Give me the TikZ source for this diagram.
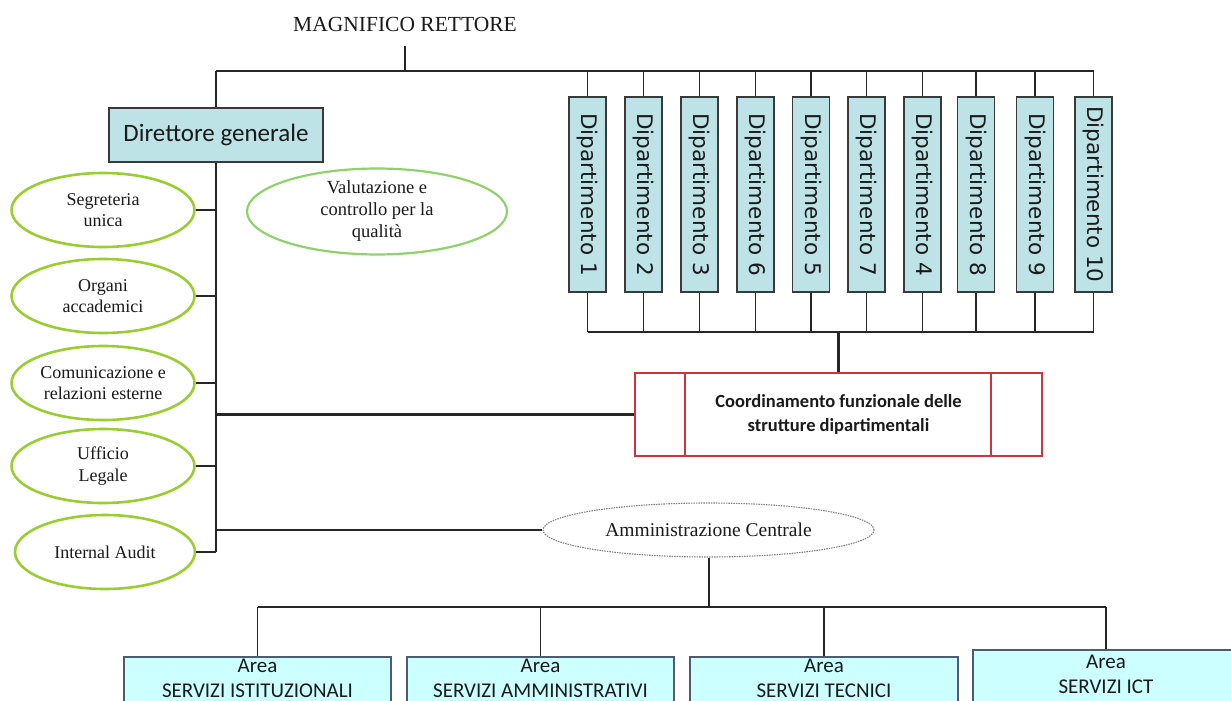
\documentclass[tikz,border=0pt]{standalone}
\usepackage{fontspec}
\setmainfont{Liberation Serif}
\newfontfamily\calfont{Carlito}
\newfontfamily\djfont{DejaVu Sans}
\usetikzlibrary{shapes.geometric}
\definecolor{linec}{HTML}{262626}
\definecolor{textc}{HTML}{1A1A1A}
\definecolor{deptfill}{HTML}{BDE3E6}
\definecolor{deptdraw}{HTML}{3A3A3A}
\definecolor{ellgreen}{HTML}{9ACD32}
\definecolor{valgreen}{HTML}{8FD16A}
\definecolor{redc}{HTML}{D0343A}
\definecolor{areafill}{HTML}{CCFFFF}
\definecolor{areadraw}{HTML}{4F5B73}
\tikzset{
  conn/.style={draw=linec, line width=2.2pt},
  deptbox/.style={rectangle, rotate=-90, draw=deptdraw, fill=deptfill, line width=1.6pt,
    minimum width=195, minimum height=37, inner sep=0pt, text=textc,
    font=\djfont\fontsize{21.5}{24}\selectfont},
  greenell/.style={ellipse, draw=ellgreen, line width=2.6pt, fill=white,
    minimum width=183, minimum height=74, inner sep=0pt, align=center, text=textc,
    font=\fontsize{18}{21.5}\selectfont},
  areabox/.style={rectangle, draw=areadraw, fill=areafill, line width=1.4pt,
    minimum width=267, minimum height=48, inner sep=0pt, text=textc},
  areatext/.style={align=center, inner sep=0pt, text=textc,
    font=\calfont\fontsize{21}{25}\selectfont},
}
\begin{document}
\begin{tikzpicture}[x=1pt,y=-1pt]
\useasboundingbox (0,0) rectangle (1231,701);
\clip (0,0) rectangle (1231,701);
\fill[white] (0,0) rectangle (1231,701);

% top
\node[text=textc, font=\fontsize{21.5}{24}\selectfont, inner sep=0pt] (rett) at (405,24) {MAGNIFICO RETTORE};
\coordinate (rstem) at (405,46);
\coordinate (tbus) at (405,71);

% direttore
\node[rectangle, draw=deptdraw, fill=deptfill, line width=2pt, minimum width=214, minimum height=54,
  inner sep=0pt, text=textc, font=\calfont\fontsize{25}{28}\selectfont] (dg) at (216,135) {Direttore generale};

% departments
\foreach \xx/\tt [count=\i] in {587.5/1,643.5/2,699.5/3,755.5/6,811/5,866.5/7,922.5/4,976/8,1035/9,1093.5/10}{
  \node[deptbox] (d\i) at (\xx,194.5) {Dipartimento \tt};
}
\coordinate (bbus) at (838.5,332);

% staff ellipses
\node[greenell] (seg) at (103,210) {Segreteria\\unica};
\node[greenell] (org) at (103,296) {Organi\\accademici};
\node[greenell] (com) at (103,383) {Comunicazione e\\relazioni esterne};
\node[greenell] (uff) at (103,466) {Ufficio\\Legale};
\node[greenell, minimum width=180] (ia) at (105,552) {Internal Audit};
\node[ellipse, draw=valgreen, line width=2.2pt, fill=white, minimum width=260, minimum height=73,
  inner sep=0pt, align=center, text=textc, font=\fontsize{18.5}{22}\selectfont] (val) at (377,211.5)
  {Valutazione e\\controllo per la\\qualità};

% coordinamento
\node[rectangle, draw=redc, line width=2pt, minimum width=407, minimum height=83, inner sep=0pt,
  align=center, text=textc, font=\calfont\bfseries\fontsize{18.5}{24}\selectfont] (coord) at (838.5,414.5)
  {Coordinamento funzionale delle\\strutture dipartimentali};
\draw[draw=redc, line width=1.6pt] ([xshift=51pt]coord.north west) -- ([xshift=51pt]coord.south west);
\draw[draw=redc, line width=1.6pt] ([xshift=-52pt]coord.north east) -- ([xshift=-52pt]coord.south east);

% amministrazione
\node[ellipse, draw=gray, dash pattern=on 1.5pt off 1pt, line width=1.1pt, fill=white,
  minimum width=331, minimum height=54, inner sep=0pt, text=textc,
  font=\fontsize{19.5}{22}\selectfont] (amm) at (708.5,530) {Amministrazione Centrale};
\coordinate (abus) at (709,607);

% areas
\node[areabox] (a1) at (257.5,681) {};
\node[areabox] (a2) at (540.5,681) {};
\node[areabox, minimum width=268] (a3) at (824,681) {};
\node[areabox, minimum width=266, minimum height=53] (a4) at (1106,676.5) {};
\node[areatext] (a1t) at (257.5,678.5) {Area\\SERVIZI ISTITUZIONALI};
\node[areatext] (a2t) at (540.5,678.5) {Area\\SERVIZI AMMINISTRATIVI};
\node[areatext] (a3t) at (824,678.5) {Area\\SERVIZI TECNICI};
\node[areatext] (a4t) at (1106,674.5) {Area\\SERVIZI ICT};

% connectors
\draw[conn] (rstem) -- (tbus);
\draw[conn] (dg.north |- tbus) -- (d10.west |- tbus);
\draw[conn] (dg.north |- tbus) -- (dg.north);
\foreach \i in {1,...,10}{
  \draw[conn, line width=1.8pt] (d\i.west |- tbus) -- (d\i.west);
  \draw[conn, line width=1.8pt] (d\i.east) -- (d\i.east |- bbus);
}
\draw[conn] (d1.east |- bbus) -- (d10.east |- bbus);
\draw[conn] (bbus) -- (coord.north);
\draw[conn] (dg.south) -- (dg.south |- ia.east);
\foreach \n in {seg,org,com,uff,ia}{
  \draw[conn] (\n.east) -- (\n.east -| dg.south);
}
\draw[conn] (dg.south |- coord.west) -- (coord.west);
\draw[conn] (dg.south |- amm.west) -- (amm.west);
\draw[conn] (amm.south -| abus) -- (abus);
\draw[conn] (a1.north |- abus) -- (a4.north |- abus);
\foreach \n in {a1,a2,a3,a4}{
  \draw[conn, line width=1.6pt] (\n.north |- abus) -- (\n.north);
}
\end{tikzpicture}
\end{document}
